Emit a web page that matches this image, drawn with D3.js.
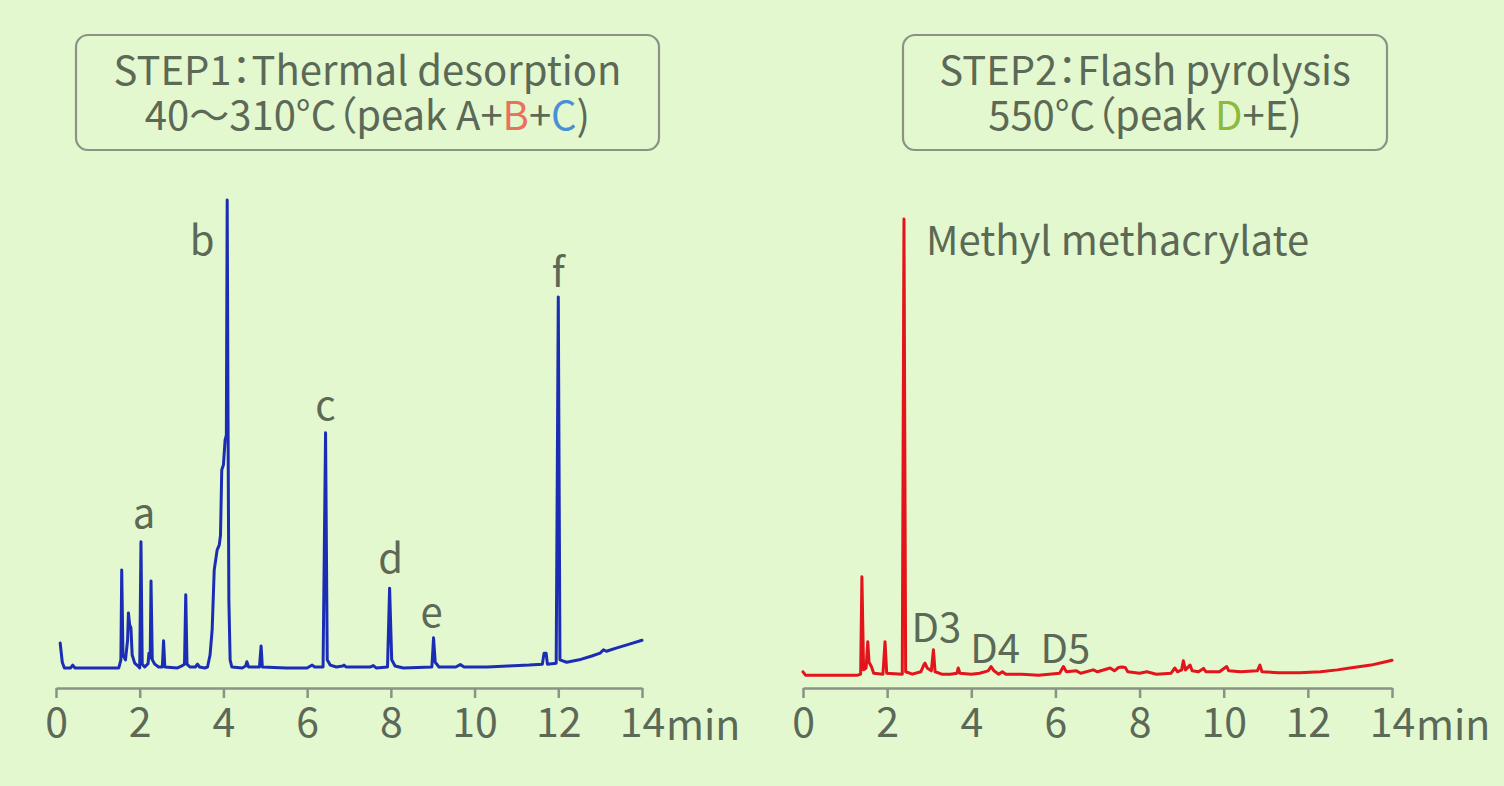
<!DOCTYPE html>
<html>
<head>
<meta charset="utf-8">
<script src="https://cdn.jsdelivr.net/npm/d3@7"></script>
<style>
  html, body { margin: 0; padding: 0; background: #e4f8cf; }
  svg { display: block; }
  text { font-family: "Noto Sans CJK JP", "Noto Sans", sans-serif; }
  .heading { font-feature-settings: "palt" 1; }
</style>
</head>
<body>
<svg id="chart" width="1504" height="786"></svg>
<script>
// ---- data ----------------------------------------------------------------
const timeTicks = [0, 2, 4, 6, 8, 10, 12, 14];   // retention time, min

// STEP1 thermal desorption trace: [retention time (min), relative intensity]
const step1Trace = [
  [0.10,7.3],[0.15,3.3],[0.20,2.1],[0.35,2.1],[0.40,2.7],[0.45,2.1],[1.50,2.1],[1.55,3.8],
  [1.57,22.6],[1.60,4.8],[1.66,3.8],[1.71,7.9],[1.73,13.6],[1.76,11.1],[1.79,10.5],[1.82,4.8],
  [1.88,3.1],[1.98,2.3],[2.00,2.1],[2.03,28.5],[2.06,2.9],[2.12,2.3],[2.20,3.0],[2.22,5.2],
  [2.25,4.2],[2.27,20.3],[2.30,3.8],[2.36,2.9],[2.45,2.3],[2.54,2.3],[2.57,7.8],[2.60,2.3],
  [2.90,2.1],[3.00,2.5],[3.07,2.9],[3.10,17.4],[3.13,2.9],[3.20,2.3],[3.33,2.3],[3.38,2.9],
  [3.43,2.3],[3.55,2.1],[3.62,2.3],[3.68,4.8],[3.73,10.0],[3.78,22.6],[3.85,26.8],[3.90,27.8],
  [3.93,29.9],[3.96,43.5],[4.00,44.6],[4.04,49.8],[4.07,50.8],[4.09,100],[4.11,54.0],[4.13,16.3],
  [4.16,3.8],[4.20,2.3],[4.45,2.1],[4.53,2.5],[4.56,3.4],[4.60,2.3],[4.86,2.3],[4.90,6.7],
  [4.93,2.3],[5.50,2.1],[6.00,2.1],[6.08,2.5],[6.12,2.7],[6.18,2.3],[6.38,2.3],[6.44,51.3],
  [6.48,3.8],[6.55,2.7],[6.70,2.3],[6.85,2.5],[6.88,2.7],[6.93,2.3],[7.50,2.3],[7.58,2.6],
  [7.65,2.1],[7.92,2.3],[7.97,18.8],[8.02,3.8],[8.10,2.5],[8.30,2.1],[8.98,2.3],[9.02,8.4],
  [9.06,3.3],[9.15,2.3],[9.55,2.3],[9.66,2.8],[9.75,2.3],[10.30,2.3],[10.80,2.5],[11.30,2.7],
  [11.62,2.9],[11.66,5.2],[11.71,5.2],[11.74,2.9],[11.95,3.1],[12.00,79.7],[12.04,3.8],[12.20,3.3],
  [12.50,3.8],[12.80,4.6],[13.00,5.2],[13.08,5.9],[13.15,5.6],[13.40,6.3],[13.70,7.1],[14.00,7.9]
];

// STEP2 flash pyrolysis trace: [retention time (min), relative intensity]
const step2Trace = [
  [0.00,1.3],[0.06,0.6],[1.30,0.6],[1.37,0.8],[1.40,21.2],[1.44,1.7],[1.50,2.1],[1.54,7.6],
  [1.57,3.3],[1.63,2.3],[1.68,1.0],[1.90,0.8],[1.95,7.6],[1.99,1.0],[2.36,0.8],[2.40,96.0],
  [2.44,1.3],[2.60,0.8],[2.80,1.3],[2.87,2.7],[2.90,3.1],[2.95,2.1],[3.05,1.5],[3.10,5.9],
  [3.14,1.3],[3.30,0.8],[3.50,0.8],[3.66,1.0],[3.69,2.1],[3.73,1.0],[4.00,0.8],[4.20,1.0],
  [4.40,1.5],[4.47,2.4],[4.54,1.5],[4.65,0.8],[4.74,1.3],[4.82,0.8],[5.20,0.8],[5.60,0.6],
  [6.10,1.0],[6.19,2.4],[6.26,1.3],[6.50,1.5],[6.60,1.0],[6.90,1.7],[7.00,1.3],[7.30,2.1],
  [7.40,1.5],[7.50,2.2],[7.58,2.3],[7.66,2.2],[7.72,1.3],[8.00,1.0],[8.17,1.3],[8.40,0.8],
  [8.75,1.0],[8.84,2.1],[8.90,1.3],[9.00,1.7],[9.04,3.6],[9.09,1.7],[9.20,2.7],[9.25,1.5],
  [9.40,1.3],[9.52,2.0],[9.58,1.3],[9.90,1.3],[10.07,2.4],[10.12,1.5],[10.40,1.3],[10.80,1.5],
  [10.86,2.7],[10.91,1.3],[11.30,1.1],[11.80,1.1],[12.30,1.3],[12.70,1.7],[13.00,2.1],[13.50,2.7],
  [13.80,3.3],[14.00,3.7]
];

// peak names and the retention times they mark
const step1PeakNames = ["a", "b", "c", "d", "e", "f"];
const step1PeakTimes = [2.03, 4.09, 6.44, 7.97, 9.02, 12.00];
const step2PeakNames = ["Methyl methacrylate", "D3", "D4", "D5"];
const step2PeakTimes = [2.40, 3.10, 4.47, 6.19];

// heading boxes: first line, then the second line as coloured pieces
const stepTitles = ["STEP1：Thermal desorption", "STEP2：Flash pyrolysis"];
const stepConditions = [
  [["40～310°C（peak A+", "base"], ["B", "B"], ["+", "base"], ["C", "C"], [")", "base"]],
  [["550°C（peak ", "base"], ["D", "D"], ["+E)", "base"]]
];
const timeUnit = "min";

// ---- styling ---------------------------------------------------------------
const textColor = "#5b6956";
const axisColor = "#8b9386";
const pieceColor = { base: textColor, B: "#e8735c", C: "#4a8fd6", D: "#8cba3a" };

const svg = d3.select("#chart");
svg.append("rect").attr("width", 1504).attr("height", 786).attr("fill", "#e4f8cf");

// one intensity scale shared by both chromatograms
const y = d3.scaleLinear().domain([0, 100]).range([678, 200]);
const axisY = 688;

const panels = [
  {
    trace: step1Trace, color: "#1b2db5", xRange: [56, 642],
    names: step1PeakNames, times: step1PeakTimes,
    box: [76, 35, 583, 115],
    // label nudges in px relative to the peak top
    nudge: { a: [3, -14, "middle"], b: [-25, 55, "middle"], c: [0, -13, "middle"],
             d: [1, -15, "middle"], e: [-2, -11, "middle"], f: [0, -10, "middle"] }
  },
  {
    trace: step2Trace, color: "#e3141b", xRange: [803, 1392],
    names: step2PeakNames, times: step2PeakTimes,
    box: [903, 35, 484, 115],
    nudge: { "Methyl methacrylate": [22, 36, "start"], D3: [3, -8, "middle"],
             D4: [4, -4, "middle"], D5: [2, -4, "middle"] }
  }
];

panels.forEach((p, i) => {
  const x = d3.scaleLinear().domain([0, 14]).range(p.xRange);
  const g = svg.append("g");

  // heading box
  const [bx, by, bw, bh] = p.box;
  g.append("rect")
    .attr("x", bx).attr("y", by).attr("width", bw).attr("height", bh)
    .attr("rx", 12).attr("ry", 12)
    .attr("fill", "none").attr("stroke", axisColor).attr("stroke-width", 2.2);
  g.append("text")
    .attr("class", "heading")
    .attr("x", bx + bw / 2).attr("y", 85)
    .attr("text-anchor", "middle").attr("font-size", 40).attr("fill", textColor)
    .text(stepTitles[i]);
  const line2 = g.append("text")
    .attr("class", "heading")
    .attr("x", bx + bw / 2).attr("y", 130)
    .attr("text-anchor", "middle").attr("font-size", 40).attr("fill", textColor);
  stepConditions[i].forEach(([s, k]) => {
    line2.append("tspan").attr("fill", pieceColor[k]).text(s);
  });

  // time axis
  const axis = d3.axisBottom(x).tickValues(timeTicks)
    .tickSize(10).tickSizeOuter(0).tickPadding(10);
  const ga = g.append("g").attr("transform", `translate(0,${axisY})`).call(axis);
  ga.select(".domain").attr("stroke", axisColor).attr("stroke-width", 2.5);
  ga.selectAll(".tick line").attr("stroke", axisColor).attr("stroke-width", 2.5);
  ga.selectAll(".tick text")
    .attr("fill", textColor).attr("font-size", 41)
    .attr("font-family", "'Noto Sans CJK JP', 'Noto Sans', sans-serif");
  g.append("text")
    .attr("x", x(14) + 24).attr("y", 740)
    .attr("font-size", 41).attr("fill", textColor)
    .text(timeUnit);

  // chromatogram
  const line = d3.line().x(d => x(d[0])).y(d => y(d[1]));
  g.append("path")
    .datum(p.trace)
    .attr("d", line)
    .attr("fill", "none")
    .attr("stroke", p.color)
    .attr("stroke-width", 3)
    .attr("stroke-linejoin", "round")
    .attr("stroke-linecap", "round");

  // peak labels
  p.names.forEach((name, j) => {
    const t = p.times[j];
    const pt = p.trace.find(d => d[0] === t);
    const [dx, dy, anchor] = p.nudge[name];
    g.append("text")
      .attr("x", x(t) + dx).attr("y", y(pt[1]) + dy)
      .attr("text-anchor", anchor)
      .attr("font-size", 40).attr("fill", textColor)
      .text(name);
  });
});
</script>
</body>
</html>
